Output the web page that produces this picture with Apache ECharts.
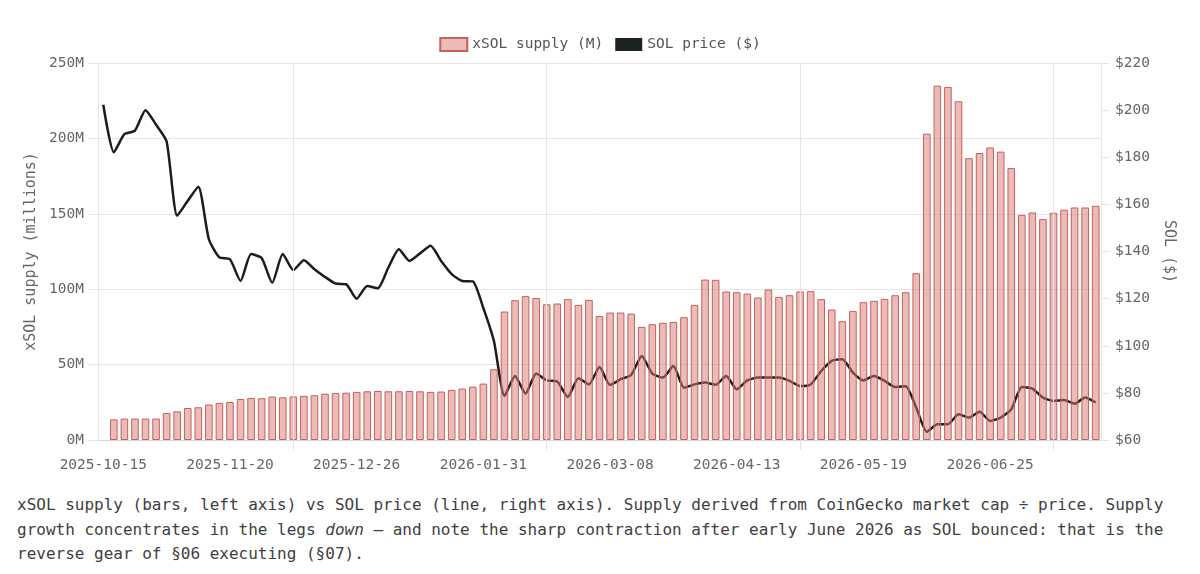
<!DOCTYPE html>
<html><head><meta charset="utf-8">
<script src="https://cdn.jsdelivr.net/npm/echarts@6/dist/echarts.min.js"></script>
<style>
html,body{margin:0;padding:0;background:#fff;}
#chart{position:absolute;left:0;top:0;width:1200px;height:480px;}
#caption{position:absolute;left:17px;top:493px;width:1180px;font-family:"DejaVu Sans Mono",monospace;font-size:16px;line-height:24.5px;color:#404040;white-space:nowrap;}
</style></head><body>
<div id="chart"></div>
<div id="caption">xSOL supply (bars, left axis) vs SOL price (line, right axis). Supply derived from CoinGecko market cap ÷ price. Supply<br>growth concentrates in the legs <em>down</em> — and note the sharp contraction after early June 2026 as SOL bounced: that is the<br>reverse gear of §06 executing (§07).</div>
<script>
// Categories: sample dates, roughly every 3 days starting 2025-10-15 (one 4-day gap in June 2026)
const startDate = '2025-10-15';
const stepDays = 3;
const nCats = 95;
const extraDayFromIndex = 80;
const categories = [];
(function(){
  const t0 = Date.parse(startDate + 'T00:00:00Z');
  for (let i = 0; i < nCats; i++) {
    const off = i * stepDays + (i >= extraDayFromIndex ? 1 : 0);
    categories.push(new Date(t0 + off * 86400000).toISOString().slice(0, 10));
  }
})();

// Vertical reference grid dates
const gridDates = ['2025-12-08', '2026-02-18', '2026-05-01', '2026-07-13'];

// xSOL supply (millions)
const supply = [null, 13.7, 14.2, 14.2, 14.2, 14.2, 17.9, 19.0, 21.2, 21.7,
  23.5, 24.6, 25.2, 27.2, 27.9, 27.7, 28.8, 28.3, 28.9, 29.3,
  29.7, 30.7, 31.2, 31.4, 31.9, 32.3, 32.5, 32.3, 32.3, 32.5,
  32.3, 31.9, 32.1, 33.2, 34.1, 35.4, 37.4, 46.9, 85.2, 92.7,
  95.4, 94.2, 90.0, 90.5, 93.4, 89.6, 92.9, 82.3, 84.5, 84.5,
  83.8, 75.0, 76.8, 77.7, 78.3, 81.4, 89.6, 106.4, 106.2, 98.5,
  98.0, 97.1, 94.5, 99.8, 94.9, 96.0, 98.5, 98.7, 93.4, 86.5,
  78.8, 85.6, 91.4, 92.3, 93.6, 96.0, 98.0, 110.6, 203.1, 235.0,
  234.1, 224.6, 186.9, 190.3, 194.0, 191.2, 180.3, 149.3, 150.9, 146.5,
  150.7, 152.7, 154.2, 154.2, 155.3];

// SOL price ($)
const price = [202.3, 182.1, 189.8, 191.3, 200.0, 193.8, 186.7, 155.2, 161.5, 167.5,
  145.2, 137.5, 136.7, 127.5, 138.9, 137.2, 126.7, 138.9, 132.1, 136.3,
  132.5, 129.2, 126.4, 126.1, 120.0, 125.4, 124.4, 133.2, 141.0, 136.0,
  139.2, 142.4, 136.0, 130.4, 127.5, 127.3, 116.0, 102.0, 78.7, 87.2,
  79.7, 88.2, 85.3, 84.8, 78.3, 86.2, 83.6, 91.0, 83.4, 85.8,
  87.6, 95.7, 88.2, 86.5, 91.4, 82.2, 83.6, 84.4, 83.4, 87.2,
  81.5, 85.3, 86.5, 86.5, 86.5, 85.1, 82.9, 83.6, 89.3, 93.6,
  94.3, 88.6, 85.3, 87.2, 85.1, 82.5, 82.8, 73.7, 63.5, 66.7,
  66.7, 70.9, 69.5, 72.0, 68.1, 69.5, 73.0, 82.5, 81.8, 78.0,
  76.6, 77.0, 75.4, 78.0, 75.9];

const FONT = '"DejaVu Sans Mono", monospace';
const GRID = '#e6e6e6';
const TXT = '#666';

const chart = echarts.init(document.getElementById('chart'), null, {renderer: 'canvas'});
chart.setOption({
  animation: false,
  textStyle: {fontFamily: FONT},
  legend: {
    top: 32, left: 'center', itemWidth: 27, itemHeight: 13, itemGap: 12, icon: 'rect',
    textStyle: {color: '#555', fontSize: 14.5, fontFamily: FONT},
    data: [
      {name: 'xSOL supply (M)'},
      {name: 'SOL price ($)', itemStyle: {color: '#1c2420'}}
    ]
  },
  grid: {left: 98, right: 99, top: 63, height: 377, containLabel: false},
  xAxis: {
    type: 'category', data: categories, boundaryGap: true,
    axisLine: {show: true, lineStyle: {color: '#d6d6d6'}},
    axisTick: {show: true, alignWithLabel: true, length: 10,
      interval: (i, v) => gridDates.includes(v), lineStyle: {color: GRID}},
    axisLabel: {interval: 11, color: TXT, fontSize: 14.5, fontFamily: FONT, margin: 18},
    splitLine: {show: false}
  },
  yAxis: [
    {
      type: 'value', min: 0, max: 250, interval: 50, position: 'left',
      name: 'xSOL supply (millions)', nameLocation: 'middle', nameGap: 58,
      nameTextStyle: {color: TXT, fontSize: 15, fontFamily: FONT},
      axisLine: {show: true, lineStyle: {color: GRID}},
      axisTick: {show: true, length: 10, lineStyle: {color: GRID}},
      axisLabel: {formatter: v => v + 'M', color: TXT, fontSize: 14.5, fontFamily: FONT, margin: 14},
      splitLine: {show: true, lineStyle: {color: GRID}}
    },
    {
      type: 'value', min: 60, max: 220, interval: 20, position: 'right',
      name: 'SOL ($)', nameLocation: 'middle', nameGap: 60, nameRotate: -90,
      nameTextStyle: {color: TXT, fontSize: 15, fontFamily: FONT},
      axisLine: {show: true, lineStyle: {color: GRID}},
      axisTick: {show: true, length: 8, lineStyle: {color: GRID}},
      axisLabel: {formatter: v => '$' + v, color: TXT, fontSize: 14.5, fontFamily: FONT, margin: 14},
      splitLine: {show: false}
    }
  ],
  series: [
    {
      name: 'xSOL supply (M)', type: 'bar', data: supply, yAxisIndex: 0,
      barWidth: '72%', z: 3,
      itemStyle: {color: 'rgba(218,120,114,0.5)', borderColor: '#c4625c', borderWidth: 1}
    },
    {
      name: 'SOL price ($)', type: 'line', data: price, yAxisIndex: 1,
      smooth: 0.2, symbol: 'none', showSymbol: false, z: 2,
      lineStyle: {color: '#1c1c1c', width: 2.5},
      itemStyle: {color: '#1c2420'},
      markLine: {
        silent: true, symbol: ['none', 'none'], label: {show: false},
        lineStyle: {color: GRID, width: 1, type: 'solid'},
        emphasis: {disabled: true},
        data: gridDates.map(d => ({xAxis: d}))
      }
    }
  ]
});
</script>
</body></html>
